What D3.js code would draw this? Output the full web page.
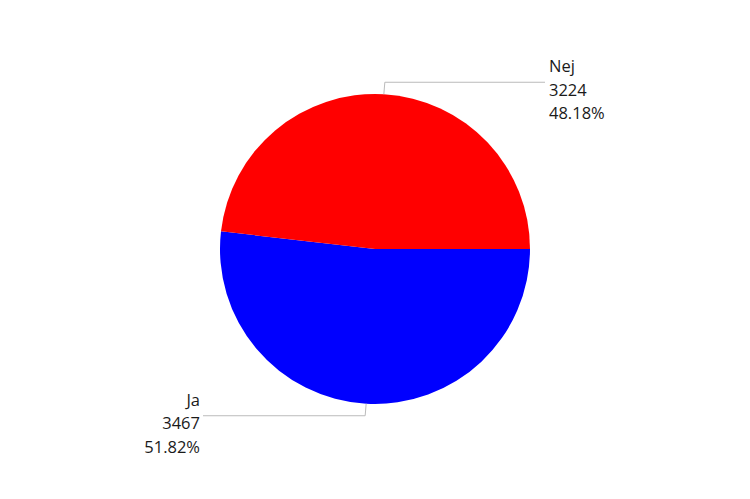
<!DOCTYPE html>
<html>
<head>
<meta charset="utf-8">
<script src="https://cdn.jsdelivr.net/npm/d3@7"></script>
<style>
  body { margin: 0; background: #fff; }
  text { font-family: "Open Sans", "Noto Sans", sans-serif; font-size: 16.5px; fill: #1a1a1a; }
</style>
</head>
<body>
<div id="chart"></div>
<script>
const categories = ["Ja", "Nej"];
const counts = [3467, 3224];
const percents = ["51.82%", "48.18%"];
const colors = ["#0000ff", "#ff0000"];

const width = 750, height = 499;
const cx = 375, cy = 249, radius = 155;

const svg = d3.select("#chart").append("svg")
    .attr("width", width)
    .attr("height", height);

const g = svg.append("g")
    .attr("transform", `translate(${cx},${cy})`);

const data = categories.map((c, i) => ({name: c, value: counts[i], pct: percents[i], color: colors[i]}));

const pie = d3.pie()
    .value(d => d.value)
    .sort(null)
    .startAngle(Math.PI / 2)
    .endAngle(Math.PI / 2 + 2 * Math.PI);

const arc = d3.arc().innerRadius(0).outerRadius(radius);

const arcs = pie(data);

g.selectAll(".slice")
    .data(arcs)
  .join("path")
    .attr("class", "slice")
    .attr("d", arc)
    .attr("fill", d => d.data.color);

// leader lines and labels
arcs.forEach(d => {
    const mid = (d.startAngle + d.endAngle) / 2;
    const x0 = Math.sin(mid) * radius;
    const y0 = -Math.cos(mid) * radius;
    const up = y0 < 0;
    const y1 = up ? y0 - 12 : y0 + 12;
    const x1 = x0 + (up ? 1 : -1);
    const x2 = up ? 170 : -172;

    g.append("polyline")
        .attr("points", [[x0, y0], [x1, y1], [x2, y1]].map(p => p.join(",")).join(" "))
        .attr("fill", "none")
        .attr("stroke", "#bbb")
        .attr("stroke-width", 1);

    const lines = [d.data.name, d3.format("d")(d.data.value), d.data.pct];
    const tx = up ? x2 + 4 : x2 - 3;
    const anchor = up ? "start" : "end";
    const baseY = y1 - 10;
    lines.forEach((t, i) => {
        g.append("text")
            .attr("x", tx)
            .attr("y", baseY + i * 23.5)
            .attr("text-anchor", anchor)
            .text(t);
    });
});
</script>
</body>
</html>
